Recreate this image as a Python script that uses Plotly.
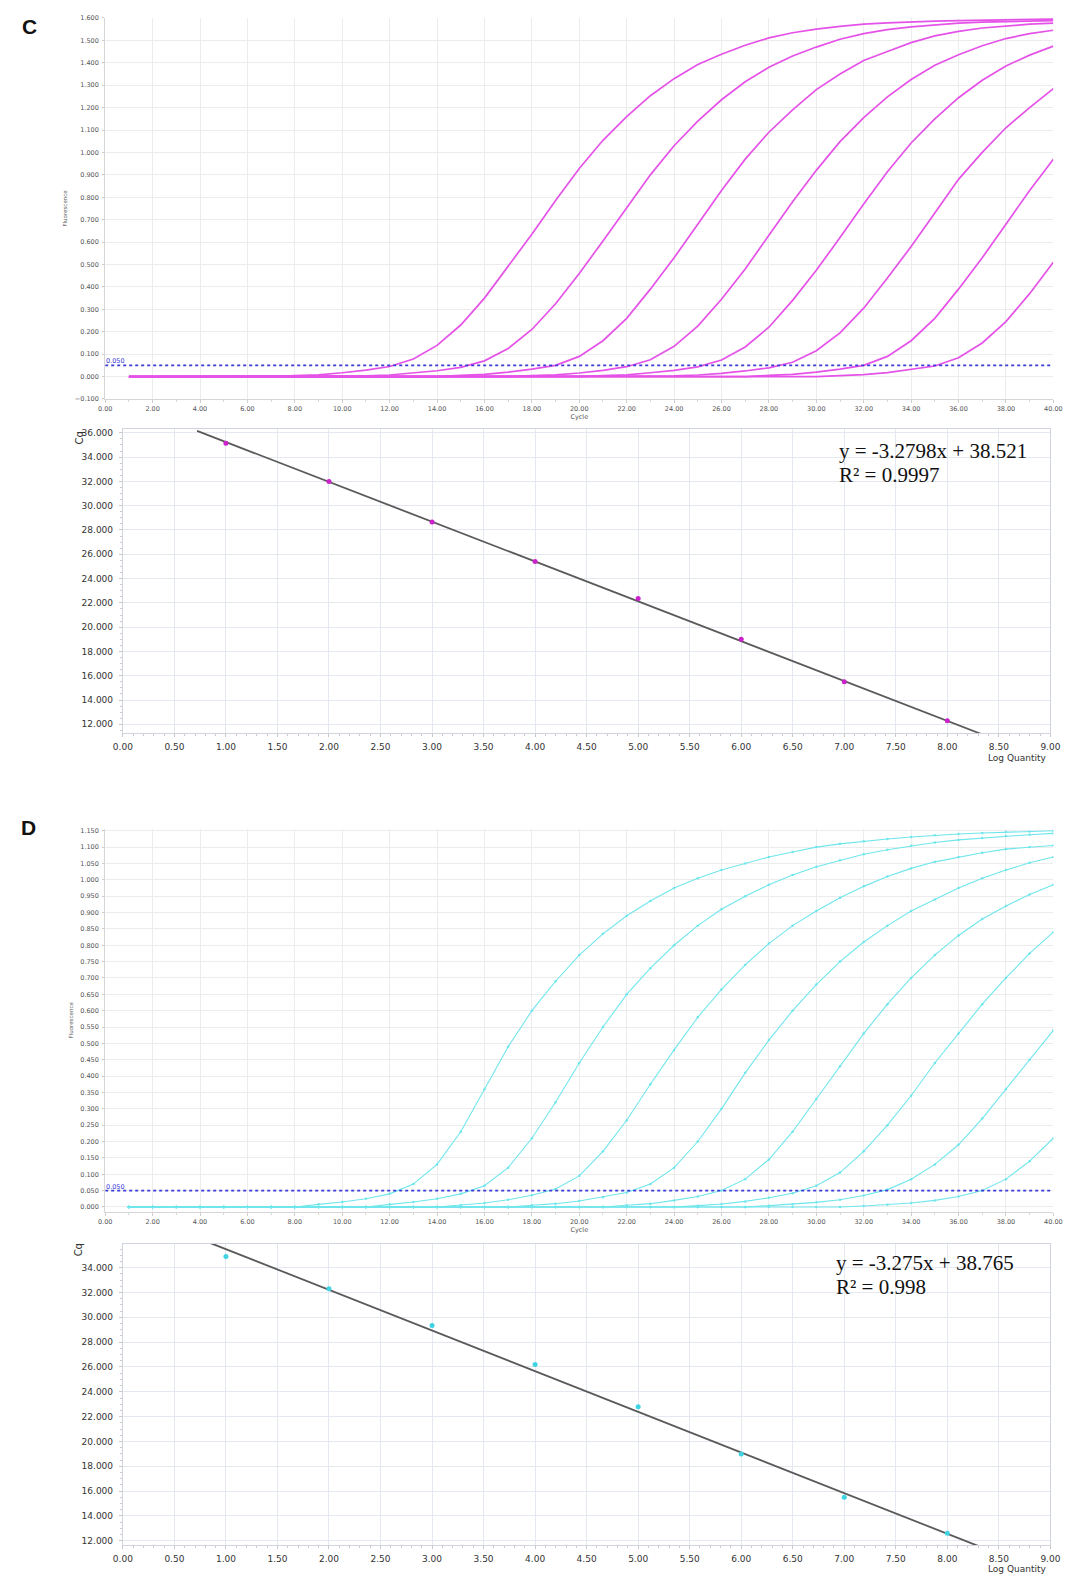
import plotly.graph_objects as go

# ---------------- DATA ----------------
cycles = [1, 2, 3, 4, 5, 6, 7, 8, 9, 10, 11, 12, 13, 14, 15, 16, 17, 18, 19, 20,
          21, 22, 23, 24, 25, 26, 27, 28, 29, 30, 31, 32, 33, 34, 35, 36, 37, 38, 39, 40]

# Panel C amplification curves (fluorescence per cycle)
c_curves = [
    [0, 0, 0, 0, 0, 0, 0, 0.004, 0.008, 0.017, 0.029, 0.045, 0.078, 0.139, 0.23, 0.35, 0.49, 0.635, 0.785, 0.928,
     1.054, 1.16, 1.253, 1.329, 1.392, 1.438, 1.478, 1.511, 1.534, 1.55, 1.562, 1.572, 1.578, 1.583, 1.586, 1.588, 1.59, 1.592, 1.594, 1.595],
    [0, 0, 0, 0, 0, 0, 0, 0, 0, 0, 0.003, 0.007, 0.015, 0.026, 0.041, 0.07, 0.125, 0.21, 0.325, 0.46,
     0.605, 0.755, 0.9, 1.03, 1.14, 1.235, 1.315, 1.38, 1.43, 1.47, 1.505, 1.53, 1.548, 1.56, 1.57, 1.577, 1.581, 1.584, 1.586, 1.588],
    [0, 0, 0, 0, 0, 0, 0, 0, 0, 0, 0, 0, 0, 0, 0.005, 0.01, 0.02, 0.033, 0.05, 0.09,
     0.16, 0.26, 0.39, 0.53, 0.68, 0.83, 0.97, 1.09, 1.19, 1.28, 1.35, 1.41, 1.45, 1.49, 1.52, 1.54, 1.555, 1.565, 1.572, 1.577],
    [0, 0, 0, 0, 0, 0, 0, 0, 0, 0, 0, 0, 0, 0, 0, 0, 0, 0.004, 0.008, 0.016,
     0.028, 0.044, 0.075, 0.135, 0.225, 0.345, 0.48, 0.63, 0.78, 0.92, 1.048, 1.155, 1.248, 1.325, 1.389, 1.436, 1.476, 1.508, 1.53, 1.545],
    [0, 0, 0, 0, 0, 0, 0, 0, 0, 0, 0, 0, 0, 0, 0, 0, 0, 0, 0, 0,
     0.004, 0.008, 0.017, 0.028, 0.043, 0.074, 0.132, 0.22, 0.34, 0.474, 0.62, 0.77, 0.914, 1.042, 1.15, 1.244, 1.322, 1.386, 1.434, 1.474],
    [0, 0, 0, 0, 0, 0, 0, 0, 0, 0, 0, 0, 0, 0, 0, 0, 0, 0, 0, 0,
     0, 0, 0, 0.003, 0.007, 0.014, 0.025, 0.039, 0.064, 0.115, 0.195, 0.305, 0.44, 0.58, 0.73, 0.88, 1.0, 1.11, 1.2, 1.285],
    [0, 0, 0, 0, 0, 0, 0, 0, 0, 0, 0, 0, 0, 0, 0, 0, 0, 0, 0, 0,
     0, 0, 0, 0, 0, 0, 0, 0.005, 0.01, 0.02, 0.033, 0.05, 0.09, 0.16, 0.26, 0.39, 0.53, 0.68, 0.83, 0.97],
    [0, 0, 0, 0, 0, 0, 0, 0, 0, 0, 0, 0, 0, 0, 0, 0, 0, 0, 0, 0,
     0, 0, 0, 0, 0, 0, 0, 0, 0, 0, 0.004, 0.009, 0.018, 0.031, 0.047, 0.084, 0.15, 0.245, 0.37, 0.51],
]

# Panel D amplification curves
d_curves = [
    [0, 0, 0, 0, 0, 0, 0, 0, 0.008, 0.015, 0.025, 0.04, 0.07, 0.13, 0.23, 0.36, 0.49, 0.6, 0.69, 0.77,
     0.835, 0.89, 0.935, 0.975, 1.005, 1.03, 1.05, 1.07, 1.085, 1.1, 1.11, 1.118, 1.125, 1.131, 1.136, 1.14, 1.143, 1.146, 1.148, 1.15],
    [0, 0, 0, 0, 0, 0, 0, 0, 0, 0, 0, 0.008, 0.015, 0.025, 0.04, 0.065, 0.12, 0.21, 0.32, 0.44,
     0.55, 0.65, 0.73, 0.8, 0.86, 0.91, 0.95, 0.985, 1.015, 1.04, 1.06, 1.078, 1.092, 1.104, 1.114, 1.122, 1.128, 1.134, 1.138, 1.142],
    [0, 0, 0, 0, 0, 0, 0, 0, 0, 0, 0, 0, 0, 0, 0.006, 0.012, 0.022, 0.036, 0.055, 0.095,
     0.17, 0.265, 0.375, 0.48, 0.58, 0.665, 0.74, 0.805, 0.86, 0.905, 0.945, 0.98, 1.01, 1.035, 1.055, 1.07, 1.083, 1.094, 1.1, 1.105],
    [0, 0, 0, 0, 0, 0, 0, 0, 0, 0, 0, 0, 0, 0, 0, 0, 0, 0.005, 0.01, 0.018,
     0.03, 0.044, 0.07, 0.12, 0.2, 0.3, 0.41, 0.51, 0.6, 0.68, 0.75, 0.81, 0.86, 0.905, 0.94, 0.975, 1.005, 1.03, 1.052, 1.07],
    [0, 0, 0, 0, 0, 0, 0, 0, 0, 0, 0, 0, 0, 0, 0, 0, 0, 0, 0, 0,
     0, 0.005, 0.01, 0.02, 0.032, 0.05, 0.085, 0.145, 0.23, 0.33, 0.43, 0.53, 0.62, 0.7, 0.77, 0.83, 0.88, 0.92, 0.955, 0.985],
    [0, 0, 0, 0, 0, 0, 0, 0, 0, 0, 0, 0, 0, 0, 0, 0, 0, 0, 0, 0,
     0, 0, 0, 0, 0.004, 0.009, 0.017, 0.028, 0.042, 0.065, 0.105, 0.17, 0.25, 0.34, 0.44, 0.53, 0.62, 0.7, 0.775, 0.84],
    [0, 0, 0, 0, 0, 0, 0, 0, 0, 0, 0, 0, 0, 0, 0, 0, 0, 0, 0, 0,
     0, 0, 0, 0, 0, 0, 0, 0.004, 0.008, 0.014, 0.022, 0.035, 0.053, 0.085, 0.13, 0.19, 0.27, 0.36, 0.45, 0.54],
    [0, 0, 0, 0, 0, 0, 0, 0, 0, 0, 0, 0, 0, 0, 0, 0, 0, 0, 0, 0,
     0, 0, 0, 0, 0, 0, 0, 0, 0, 0, 0, 0.003, 0.007, 0.012, 0.02, 0.032, 0.05, 0.085, 0.14, 0.21],
]

threshold = 0.050
threshold_label = "0.050"

# Standard curves
log_quantity = [1, 2, 3, 4, 5, 6, 7, 8]
c_cq = [35.15, 32.0, 28.65, 25.4, 22.35, 19.0, 15.5, 12.3]
d_cq = [34.9, 32.3, 29.35, 26.2, 22.8, 19.0, 15.5, 12.6]

c_slope, c_intercept, c_r2 = -3.2798, 38.521, "0.9997"
d_slope, d_intercept, d_r2 = -3.275, 38.765, "0.998"
c_fit_x = [0.72, 8.33]
d_fit_x = [0.85, 8.31]

# ---------------- STYLE ----------------
W, H = 1081, 1580
MAG = "#e552e8"
MAG_PT = "#cc22cc"
CYAN = "#6fe6ec"
CYAN_PT = "#3fd3e3"
THR = "#3a3ad6"
FIT = "#5a5a5a"


def fx(t):
    return t / W


def fy(t):
    return 1 - t / H


def px_x(a, b):
    return [fx(a), fx(b)]


def px_y(top, bottom):
    return [fy(bottom), fy(top)]


fig = go.Figure()

# Panel C amplification
for ys in c_curves:
    fig.add_trace(go.Scatter(x=cycles, y=ys, mode="lines", line=dict(color=MAG, width=1.7),
                             xaxis="x", yaxis="y", showlegend=False, hoverinfo="skip"))
fig.add_trace(go.Scatter(x=[0, 40], y=[threshold, threshold], mode="lines",
                         line=dict(color=THR, width=1.8, dash="dot"), xaxis="x", yaxis="y",
                         showlegend=False, hoverinfo="skip"))

# Panel C standard curve
fig.add_trace(go.Scatter(x=c_fit_x, y=[c_slope * v + c_intercept for v in c_fit_x], mode="lines",
                         line=dict(color=FIT, width=1.8), xaxis="x2", yaxis="y2", showlegend=False))
fig.add_trace(go.Scatter(x=log_quantity, y=c_cq, mode="markers",
                         marker=dict(color=MAG_PT, size=5), xaxis="x2", yaxis="y2", showlegend=False))

# Panel D amplification
for ys in d_curves:
    fig.add_trace(go.Scatter(x=cycles, y=ys, mode="lines+markers", line=dict(color=CYAN, width=1.1),
                             marker=dict(color=CYAN, size=2.5),
                             xaxis="x3", yaxis="y3", showlegend=False, hoverinfo="skip"))
fig.add_trace(go.Scatter(x=[0, 40], y=[threshold, threshold], mode="lines",
                         line=dict(color=THR, width=1.8, dash="dot"), xaxis="x3", yaxis="y3",
                         showlegend=False, hoverinfo="skip"))

# Panel D standard curve
fig.add_trace(go.Scatter(x=d_fit_x, y=[d_slope * v + d_intercept for v in d_fit_x], mode="lines",
                         line=dict(color=FIT, width=1.8), xaxis="x4", yaxis="y4", showlegend=False))
fig.add_trace(go.Scatter(x=log_quantity, y=d_cq, mode="markers",
                         marker=dict(color=CYAN_PT, size=5), xaxis="x4", yaxis="y4", showlegend=False))

amp_font = dict(family="DejaVu Sans", size=6.5, color="#555555")
std_font = dict(family="DejaVu Sans", size=9, color="#333333")


def amp_x(domain):
    return dict(domain=domain, range=[0, 40], dtick=2, tick0=0, tickformat=".2f",
                tickfont=amp_font, showgrid=True, gridcolor="#ececec", gridwidth=1,
                showline=True, linecolor="#d6d6d6", ticks="outside", ticklen=3, tickcolor="#cfcfcf",
                minor=dict(dtick=1, ticks="outside", ticklen=2, tickcolor="#d8d8d8", showgrid=False),
                zeroline=False, title=dict(text="Cycle", font=amp_font, standoff=0))


def amp_y(domain, rng, dt, anchor):
    return dict(domain=domain, range=rng, dtick=dt, tick0=0, tickformat=".3f", anchor=anchor,
                tickfont=amp_font, showgrid=True, gridcolor="#ececec", gridwidth=1,
                showline=True, linecolor="#d6d6d6", ticks="outside", ticklen=2, tickcolor="#cfcfcf",
                ticklabelstandoff=2,
                zeroline=False, title=dict(text="Fluorescence", font=dict(family="DejaVu Sans", size=5.5, color="#555"), standoff=6))


def std_x(domain, anchor):
    return dict(domain=domain, range=[0, 9], dtick=0.5, tick0=0, tickformat=".2f", anchor=anchor,
                tickfont=std_font, showgrid=True, gridcolor="#e4e8f0", gridwidth=1,
                showline=True, linecolor="#cfd4de", mirror=True, ticks="outside", ticklen=3, tickcolor="#c8c8c8",
                minor=dict(dtick=0.1, ticks="outside", ticklen=2, tickcolor="#cccccc", showgrid=False),
                ticklabelstandoff=2, zeroline=False)


def std_y(domain, rng, anchor):
    return dict(domain=domain, range=rng, dtick=2, tick0=0, tickformat=".3f", anchor=anchor,
                tickfont=std_font, showgrid=True, gridcolor="#e4e8f0", gridwidth=1,
                showline=True, linecolor="#cfd4de", mirror=True, ticks="outside", ticklen=3, tickcolor="#c8c8c8",
                minor=dict(dtick=0.5, ticks="outside", ticklen=2, tickcolor="#cccccc", showgrid=False),
                ticklabelstandoff=4, zeroline=False)


fig.update_layout(
    width=W, height=H, margin=dict(l=0, r=0, t=0, b=0),
    paper_bgcolor="white", plot_bgcolor="white",
    xaxis=dict(amp_x(px_x(97, 1063)), anchor="y"),
    yaxis=amp_y(px_y(14, 397), [-0.1, 1.6], 0.1, "x"),
    xaxis2=std_x(px_x(115, 1060), "y2"),
    yaxis2=std_y(px_y(427, 733), [11.26, 36.33], "x2"),
    xaxis3=dict(amp_x(px_x(97, 1063)), anchor="y3"),
    yaxis3=amp_y(px_y(829, 1214), [-0.015, 1.156], 0.05, "x3"),
    xaxis4=std_x(px_x(115, 1060), "y4"),
    yaxis4=std_y(px_y(1246, 1549), [11.65, 35.93], "x4"),
)

ann = []


def pann(text, x, y, font, **kw):
    d = dict(text=text, x=fx(x), y=fy(y), xref="paper", yref="paper", showarrow=False,
             xanchor="center", yanchor="middle", font=font)
    d.update(kw)
    ann.append(d)


letter_font = dict(family="Liberation Sans", size=21, color="#111")
pann("<b>C</b>", 20, 23, letter_font)
pann("<b>D</b>", 19, 828, letter_font)

# threshold labels
for xa, ya in (("x", "y"), ("x3", "y3")):
    ann.append(dict(text=threshold_label, x=0, y=threshold, xref=xa, yref=ya, xanchor="left", yanchor="bottom",
                    showarrow=False, font=dict(family="DejaVu Sans", size=6.5, color=THR), yshift=-2, xshift=-1))

cq_font = dict(family="DejaVu Sans", size=10, color="#333")
pann("Cq", 71, 436, cq_font, textangle=-90)
pann("Cq", 70, 1252, cq_font, textangle=-90)
lq_font = dict(family="DejaVu Sans", size=9, color="#333")
pann("Log Quantity", 1027, 758, lq_font)
pann("Log Quantity", 1027, 1573, lq_font)

# regression equations
ser = dict(family="Liberation Serif", size=21, color="#111")
pann(f"y = {c_slope}x + {c_intercept}", 843, 449, ser, xanchor="left")
pann(f"R² = {c_r2}", 843, 473, ser, xanchor="left")
pann(f"y = {d_slope}x + {d_intercept}", 840, 1265, ser, xanchor="left")
pann(f"R² = {d_r2}", 840, 1290, ser, xanchor="left")
fig.update_layout(annotations=ann)

fig.write_html("out.html", config=dict(displayModeBar=False))
